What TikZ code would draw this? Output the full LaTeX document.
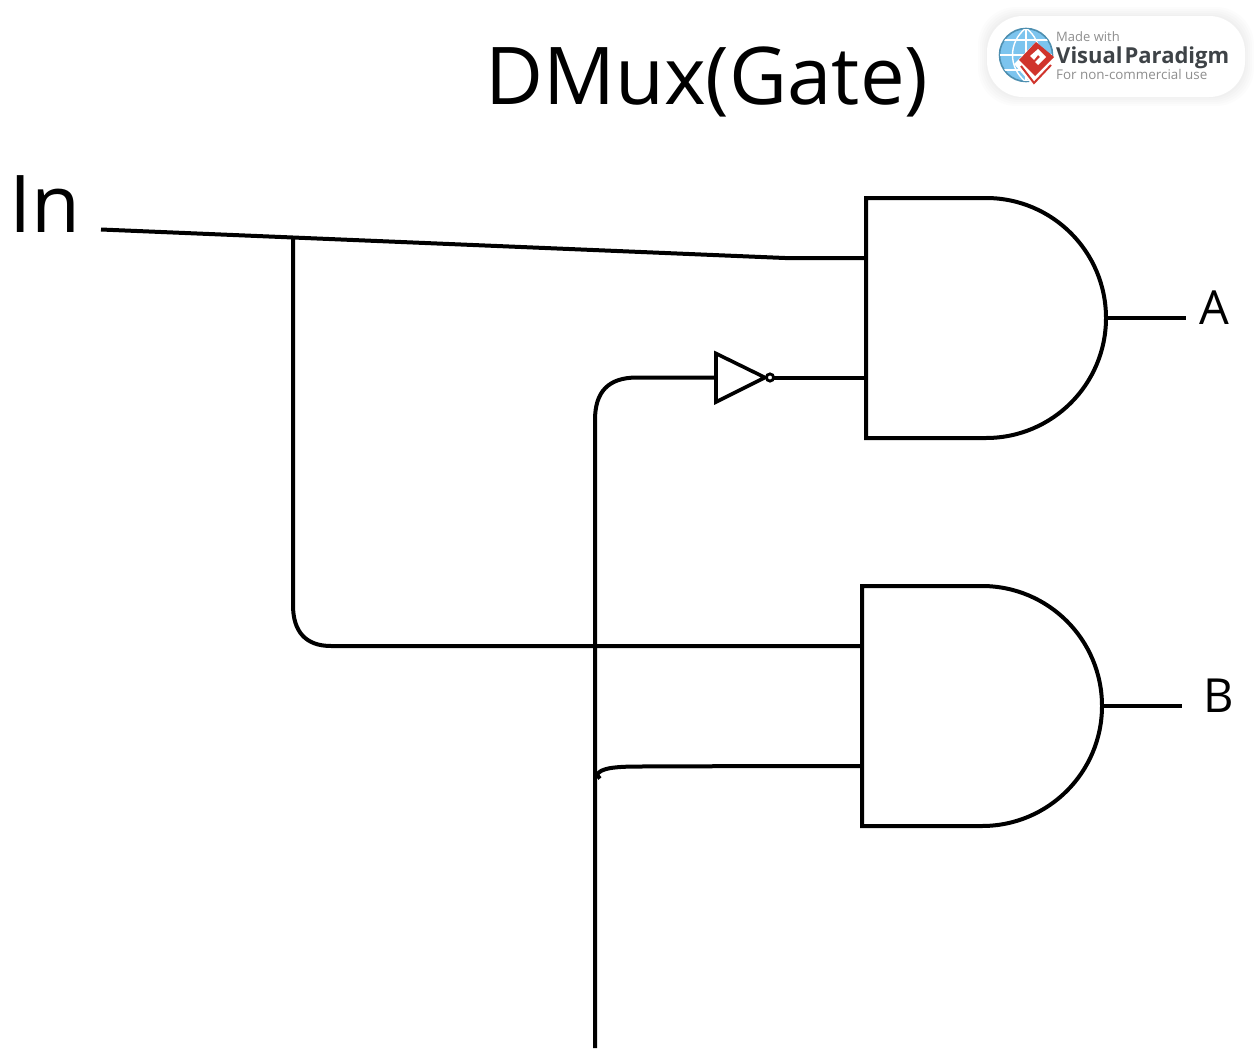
\documentclass[tikz,border=0pt]{standalone}
\usepackage{fontspec}
\setmainfont{Open Sans}
\definecolor{vpgray}{HTML}{8E8E8E}
\definecolor{vpdark}{HTML}{3E4347}
\definecolor{vpblue}{HTML}{7CC4EE}
\definecolor{vpedge}{HTML}{4E8FB0}
\definecolor{vpred}{HTML}{D0342C}
\tikzset{
  wire/.style={line width=4pt,line join=round},
  gate/.style={line width=4pt,line join=miter,fill=white},
  lbl/.style={inner sep=0pt,anchor=base west,text=black},
  bigtext/.style={lbl,font=\fontsize{79.7}{96}\selectfont},
  outtext/.style={lbl,font=\fontsize{47}{56}\selectfont},
  badgetext/.style={inner sep=0pt,anchor=base west},
}
\begin{document}
\begin{tikzpicture}[x=1pt,y=-1pt]
\useasboundingbox (0,0) rectangle (1256,1052);
% badge
\foreach \o/\r in {9/38,7/37,5/36,3/35,1/34}{
  \fill[black,opacity=0.012,rounded corners=\r pt] (987-\o,16-\o) rectangle (1245+\o,97+\o);
}
\fill[white,rounded corners=36pt] (987,16) rectangle (1245,97);
\fill[vpblue] (1026,55) circle (26.5);
\draw[vpedge,line width=1.6pt] (1026,55) circle (26.5);
\begin{scope}
\clip (1026,55) circle (26);
\foreach \y in {40,55,70} \draw[white,line width=1.4pt] (998,\y) -- (1054,\y);
\draw[white,line width=1.4pt] (1026,28) -- (1026,82);
\draw[white,line width=1.4pt] (1026,28) .. controls (1008,42) and (1008,68) .. (1026,82);
\draw[white,line width=1.4pt] (1026,28) .. controls (1044,42) and (1044,68) .. (1026,82);
\end{scope}
\fill[white] (1014,64) -- (1035,88) -- (1056,62) -- (1036,42) -- cycle;
\draw[vpred,line width=2pt] (1021,66) -- (1034,83) -- (1051,65);
\fill[vpred] (1019,60) -- (1036,42) -- (1054,57) -- (1035,76) -- cycle;
\fill[white] (1030,56) -- (1038,49) -- (1046,57) -- (1038,65) -- (1035,62) -- (1040,57) -- (1038,55) -- (1034,60) -- cycle;
\node[badgetext,text=vpgray,font=\fontsize{13}{15}\selectfont] (madewith) at (1056,41) {Made with};
\node[badgetext,text=vpdark,font=\bfseries\fontsize{22}{26}\selectfont] (vp) at (1056,63) {Visual\kern2pt Paradigm};
\node[badgetext,text=vpgray,font=\fontsize{13.4}{15}\selectfont] (noncom) at (1056,79) {For non-commercial use};
% labels
\node[bigtext] (title) at (485,104) {DMux(Gate)};
\node[bigtext] (inlabel) at (9,232) {In};
\node[outtext] (alabel) at (1199,324) {A};
\node[outtext] (blabel) at (1203,712) {B};
% ports
\coordinate (in) at (101,229.5);
\coordinate (knee) at (785,258);
\coordinate (tap) at (293,238);
\coordinate (aa) at (866,258);
\coordinate (ab) at (866,378);
\coordinate (ao) at (1106,318);
\coordinate (aend) at (1186,318);
\coordinate (ba) at (862,646);
\coordinate (bb) at (862,766);
\coordinate (bo) at (1102,706);
\coordinate (bend) at (1182,706);
\coordinate (sel) at (595,1048);
\coordinate (notin) at (716,377.5);
\coordinate (notout) at (774,378);
% wires
\draw[wire] (in) -- (knee) -- (aa);
\draw[wire] (tap) -- (293,605) .. controls (293,632) and (306,646) .. (331,646) -- (ba);
\draw[wire] (sel) -- (595,420) .. controls (595,392) and (608,377.5) .. (637,377.5) -- (notin);
\draw[wire] (notout) -- (ab);
\draw[wire] (bb) -- (780,766) -- (640,766.5) .. controls (615,766.5) and (600,768) .. (597,775) -- (600,778.5);
\draw[wire] (ao) -- (aend);
\draw[wire] (bo) -- (bend);
% gates
\draw[gate] (866,198) -- (986,198) .. controls (1052.3,198) and (1106,251.7) .. (ao) .. controls (1106,384.3) and (1052.3,438) .. (986,438) -- (866,438) -- cycle;
\draw[gate] (862,586) -- (982,586) .. controls (1048.3,586) and (1102,639.7) .. (bo) .. controls (1102,772.3) and (1048.3,826) .. (982,826) -- (862,826) -- cycle;
% inverter
\draw[line width=3.6pt,fill=white,line join=miter] (716,353.5) -- (765,377.5) -- (716,402) -- cycle;
\draw[line width=2.8pt,fill=white] (770,377.5) circle (3.6);
\end{tikzpicture}
\end{document}
